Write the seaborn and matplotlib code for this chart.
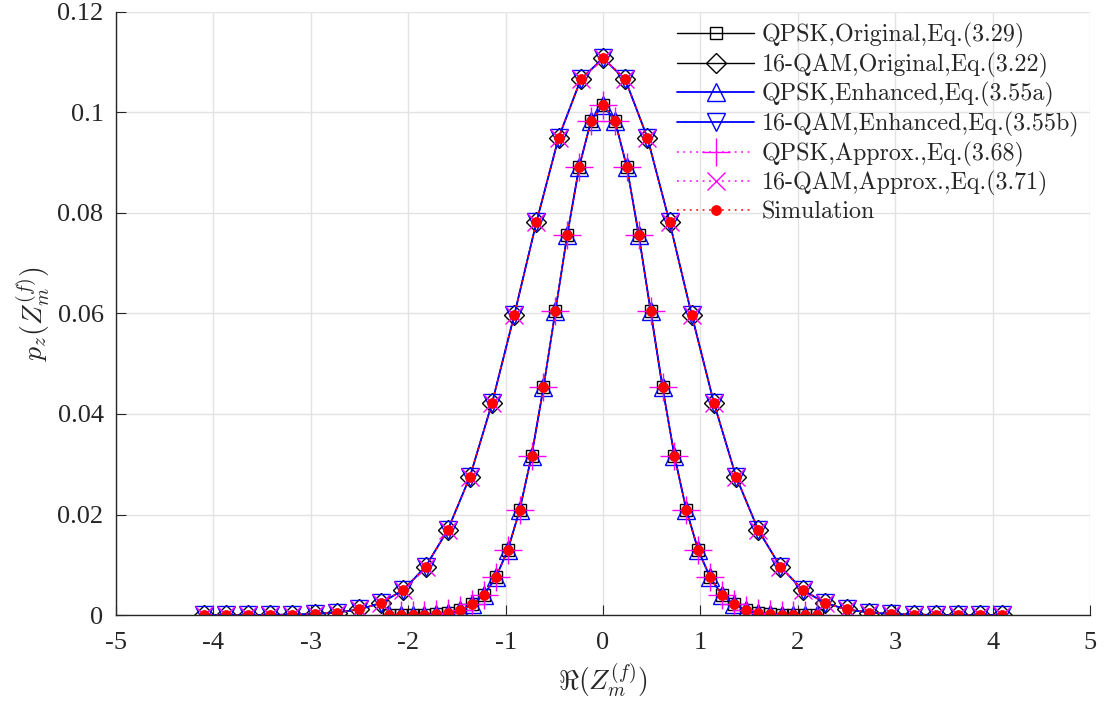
import numpy as np
import matplotlib
matplotlib.use("Agg")
import matplotlib.pyplot as plt
from matplotlib.font_manager import FontProperties
import seaborn as sns

# ---- data -------------------------------------------------------------
# QPSK: 37 bins between -2.2 and 2.2 ; 16-QAM: 37 bins between -4.1 and 4.1
qpsk_x = np.linspace(-2.2, 2.2, 37)
qam16_x = np.linspace(-4.1, 4.1, 37)

qpsk_half = [0.1015, 0.0984, 0.0892, 0.0757, 0.0605, 0.0453, 0.0317, 0.0209,
             0.0129, 0.0075, 0.0040, 0.0021, 0.0010, 0.00045, 0.00018,
             0.00007, 0.00002, 0.00001, 0.0]
qam16_half = [0.1108, 0.1066, 0.0950, 0.0782, 0.0597, 0.0422, 0.0275, 0.0169,
              0.0096, 0.0050, 0.0024, 0.0011, 0.0005, 0.0002, 0.0001,
              0.00003, 0.00001, 0.0, 0.0]

qpsk_pdf = np.array(qpsk_half[:0:-1] + qpsk_half)
qam16_pdf = np.array(qam16_half[:0:-1] + qam16_half)

xticks = [-5, -4, -3, -2, -1, 0, 1, 2, 3, 4, 5]
yticks = [0, 0.02, 0.04, 0.06, 0.08, 0.1, 0.12]
ytick_labels = ["0", "0.02", "0.04", "0.06", "0.08", "0.1", "0.12"]

labels = ["QPSK,Original,Eq.(3.29)",
          "16-QAM,Original,Eq.(3.22)",
          "QPSK,Enhanced,Eq.(3.55a)",
          "16-QAM,Enhanced,Eq.(3.55b)",
          "QPSK,Approx.,Eq.(3.68)",
          "16-QAM,Approx.,Eq.(3.71)",
          "Simulation"]

# ---- style ------------------------------------------------------------
sns.set_theme(style="whitegrid")
plt.rcParams["font.family"] = ["Liberation Serif", "DejaVu Serif"]
plt.rcParams["mathtext.fontset"] = "cm"
plt.rcParams["axes.unicode_minus"] = False

fig = plt.figure(figsize=(11.05, 7.04), dpi=100)
ax = fig.add_axes([0.105, 0.1264, 0.8814, 0.8566])
ax.set_facecolor("white")

dotted = (0, (1.2, 3.0))

# (x, y, label, style)
series = [
    (qpsk_x, qpsk_pdf, labels[0], dict(color="black", lw=1.0, ls="-", marker="s", ms=8.5)),
    (qam16_x, qam16_pdf, labels[1], dict(color="black", lw=1.0, ls="-", marker="D", ms=10)),
    (qpsk_x, qpsk_pdf, labels[2], dict(color="blue", lw=1.3, ls="-", marker="^", ms=13)),
    (qam16_x, qam16_pdf, labels[3], dict(color="blue", lw=1.3, ls="-", marker="v", ms=13)),
    (qpsk_x, qpsk_pdf, labels[4], dict(color="magenta", lw=1.1, ls=dotted, marker="+", ms=20)),
    (qam16_x, qam16_pdf, labels[5], dict(color="magenta", lw=1.1, ls=dotted, marker="x", ms=13)),
]

handles = []
for x, y, lab, st in series:
    sns.lineplot(x=x, y=y, ax=ax, color=st["color"], linewidth=st["lw"],
                 linestyle=st["ls"], marker=st["marker"], markersize=st["ms"],
                 markerfacecolor="none", markeredgecolor=st["color"],
                 markeredgewidth=1.0, label=lab, legend=False)
    handles.append(ax.lines[-1])

# simulation results for both modulations
for i, (x, y) in enumerate([(qpsk_x, qpsk_pdf), (qam16_x, qam16_pdf)]):
    sns.lineplot(x=x, y=y, ax=ax, color="red", linewidth=1.1, linestyle=dotted,
                 marker="o", markersize=7.2, markerfacecolor="red",
                 markeredgecolor="red", markeredgewidth=0.5,
                 label=labels[6] if i == 0 else "_nolegend_", legend=False)
    if i == 0:
        handles.append(ax.lines[-1])

# ---- axes -------------------------------------------------------------
ax.set_xlim(-5, 5)
ax.set_ylim(0, 0.12)
ax.set_xticks(xticks)
ax.set_xticklabels([str(t) for t in xticks])
ax.set_yticks(yticks)
ax.set_yticklabels(ytick_labels)
ax.tick_params(axis="both", direction="in", length=7, width=0.8,
               labelsize=19, colors="#262626",
               bottom=True, left=True)
ax.tick_params(axis="x", pad=12)
ax.tick_params(axis="y", pad=9)
ax.grid(True, color="#e3e3e3", linewidth=1.0)
for side in ["top", "right"]:
    ax.spines[side].set_visible(False)
for side in ["left", "bottom"]:
    ax.spines[side].set_color("#262626")
    ax.spines[side].set_linewidth(1.0)

ax.set_xlabel(r"$\Re(Z_m^{(f)})$", fontsize=20, color="#262626", labelpad=6)
ax.set_ylabel(r"$p_z(Z_m^{(f)})$", fontsize=20, color="#262626", labelpad=4)

leg = ax.legend(handles, labels, loc="upper right", frameon=False,
                prop=FontProperties(family="cmr10", size=17.3),
                handlelength=3.2, handletextpad=0.3, labelspacing=0.19,
                borderaxespad=0.0, borderpad=0.45, numpoints=1,
                bbox_to_anchor=(1.0, 1.0))

fig.savefig("out.png", dpi=100)
